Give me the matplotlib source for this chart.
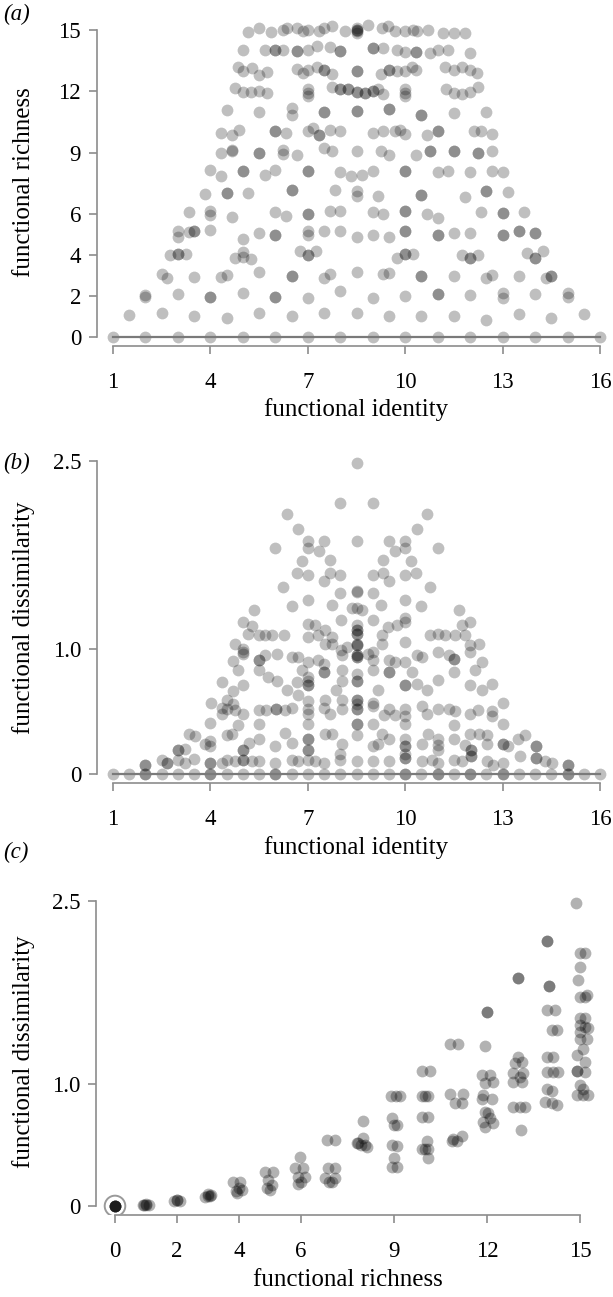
import matplotlib
matplotlib.use("Agg")
import matplotlib.pyplot as plt

plt.rcParams["font.family"] = ["Liberation Serif", "DejaVu Serif"]

W, H = 613, 1297

# ---------------- panel (a): functional identity vs functional richness
a_x = [
    # richness 0
    1, 2, 3, 4, 5, 6, 7, 8, 9, 10, 11, 12, 13, 14, 15, 16,
    # richness 1
    1.5, 2.5, 3.5, 4.5, 5.5, 6.5, 7.5, 8.5, 9.5, 10.5, 11.5, 12.5, 13.5, 14.5, 15.5,
    # richness 2
    2, 2, 3, 4, 4, 5, 6, 6, 7, 8, 9, 10, 11, 11, 12, 13, 13, 14, 15, 15,
    # richness 3
    2.5, 2.67, 3.5, 4.33, 4.5, 5.5, 6.5, 6.5, 7.5, 7.67, 8.5, 9.33, 9.5, 10.5, 10.5,
    11.5, 12.5, 12.67, 13.5, 14.33, 14.5, 14.5,
    # richness 4
    2.75, 3, 3, 3.25, 4.75, 5, 5, 5.25, 6.75, 7, 7, 7.25, 9.75, 10, 10, 10.25,
    11.75, 12, 12, 12.25, 13.75, 14, 14, 14.25,
    # richness 5
    3, 3, 3.33, 3.5, 3.5, 4, 5, 5.5, 6, 6, 7, 7, 7.5, 8, 8.5, 9, 9.5, 10, 10,
    11, 11, 11.5, 12, 13, 13, 13.5, 13.5, 14, 14,
    # richness 6
    3.33, 4, 4, 4.67, 6, 6.33, 7, 7, 7.67, 8, 9, 9.33, 10, 10, 10.67, 11, 12.33,
    13, 13, 13.67,
    # richness 7
    3.83, 4.5, 4.5, 5.17, 6.5, 6.5, 7.83, 8.5, 8.5, 9.17, 10.5, 10.5, 11.83,
    12.5, 12.5, 13.17,
    # richness 8
    4, 4.33, 5, 5, 5.67, 6, 7, 7, 8, 8.33, 8.67, 9, 10, 10, 11, 11.33, 12, 12.67, 13,
    # richness 9
    4.33, 4.67, 4.67, 5.5, 5.5, 6.25, 6.25, 6.67, 7.5, 7.75, 8.5, 9.25, 9.5, 10.33,
    10.75, 10.75, 11.5, 11.5, 12.25, 12.25, 12.67,
    # richness 10
    4.33, 4.67, 4.89, 6, 6, 6.33, 7, 7.17, 7.33, 7.33, 7.67, 8, 9, 9.33, 9.67, 9.83,
    10, 10.67, 11, 11, 12.11, 12.33, 12.67,
    # richness 11
    4.5, 5.5, 6.5, 6.5, 7.5, 7.5, 8.5, 8.5, 9.5, 9.5, 10.5, 10.5, 11.5, 12.5,
    # richness 12
    4.75, 5, 5.25, 5.5, 5.75, 7, 7, 7, 7.75, 8, 8, 8.25, 8.25, 8.5, 8.5, 8.75, 8.75,
    9, 9, 9.17, 9.33, 10, 10, 10, 11.25, 11.5, 11.75, 12, 12.25,
    # richness 13
    4.86, 5, 5.27, 5.5, 5.75, 6.67, 6.86, 7, 7.27, 7.5, 7.5, 7.75, 8.5, 8.5, 9.25,
    9.5, 9.5, 9.75, 10, 10.2, 10.33, 11.22, 11.5, 11.75, 12, 12.2,
    # richness 14
    5, 5.67, 6, 6, 6.25, 6.67, 6.67, 7, 7.27, 7.67, 8, 8, 9, 9, 9.33, 9.75, 10,
    10.33, 10.33, 10.75, 11, 11.33, 12,
    # richness 15
    5.17, 5.5, 5.86, 6.25, 6.35, 6.67, 6.86, 7, 7.33, 7.5, 7.73, 8.14, 8.5, 8.5,
    8.5, 8.5, 8.5, 8.86, 9.27, 9.48, 9.68, 10, 10.25, 10.35, 10.71, 11.17, 11.51, 11.84,
]
a_y = [
    0, 0, 0, 0, 0, 0, 0, 0, 0, 0, 0, 0, 0, 0, 0, 0,
    1.05, 1.17, 1.02, 0.93, 1.17, 1.02, 1.17, 1.19, 1.02, 1.02, 1.02, 0.85, 1.13, 0.93, 1.1,
    2.07, 1.96, 2.12, 1.96, 1.96, 2.15, 1.94, 1.94, 1.88, 2.23, 1.88, 1.99, 2.12, 2.12,
    2.04, 2.15, 1.91, 2.12, 2.15, 1.94,
    3.09, 2.88, 2.92, 2.93, 3.01, 3.16, 2.97, 2.97, 2.88, 3.09, 3.17, 3.09, 3.12, 3.0, 3.0,
    3.0, 2.88, 3.05, 3.0, 2.88, 2.97, 2.97,
    3.99, 4.07, 4.07, 4.05, 3.86, 4.15, 3.91, 3.83, 4.18, 3.99, 3.99, 4.18, 3.86, 4.05,
    4.05, 4.05, 3.99, 3.86, 3.86, 3.99, 4.1, 3.86, 3.86, 4.18,
    5.16, 4.87, 5.13, 5.2, 5.2, 5.21, 4.8, 5.08, 5.0, 5.0, 5.16, 4.97, 5.2, 5.2, 4.87,
    4.97, 4.87, 5.16, 5.16, 4.97, 4.97, 5.08, 5.08, 5.0, 5.0, 5.16, 5.16, 5.08, 5.08,
    6.11, 6.14, 5.98, 5.85, 6.11, 5.9, 6.01, 6.01, 6.17, 6.17, 6.11, 6.02, 6.14, 6.14,
    6.01, 5.82, 6.11, 6.06, 6.06, 6.11,
    6.99, 7.04, 7.04, 7.04, 7.17, 7.17, 7.2, 7.12, 6.87, 6.87, 6.92, 6.92, 6.82,
    7.12, 7.12, 7.09,
    8.18, 7.85, 8.13, 8.13, 7.93, 8.18, 8.1, 8.1, 8.06, 7.85, 7.93, 8.1, 8.13, 8.13,
    8.06, 8.1, 8.06, 8.1, 8.06,
    8.99, 9.15, 9.07, 8.99, 8.99, 9.15, 8.94, 8.91, 9.23, 9.1, 9.1, 9.1, 8.91, 8.91,
    9.07, 9.07, 9.07, 9.07, 8.99, 8.99, 9.07,
    9.97, 9.88, 10.1, 10.04, 10.04, 9.97, 10.04, 10.2, 9.88, 9.88, 10.12, 10.04, 9.97,
    10.08, 10.04, 10.12, 9.92, 9.88, 10.08, 10.08, 10.04, 10.08, 9.92,
    11.07, 10.97, 11.2, 10.86, 10.99, 10.99, 11.05, 11.05, 11.15, 11.15, 10.86, 10.86,
    10.94, 10.97,
    12.17, 11.97, 11.97, 12.03, 11.92, 12.09, 11.92, 11.76, 12.2, 12.09, 12.09, 12.09,
    12.09, 11.97, 11.97, 11.92, 11.92, 12.03, 12.03, 12.09, 11.87, 12.09, 11.92, 11.76,
    12.09, 11.92, 11.87, 11.97, 12.2,
    13.17, 12.98, 13.14, 12.82, 12.95, 13.1, 12.9, 13.06, 13.17, 13.06, 13.06, 12.85,
    12.98, 12.98, 12.85, 13.06, 13.06, 12.98, 12.98, 13.17, 13.06, 13.17, 13.06, 13.17,
    13.06, 12.9,
    14.0, 14.0, 14.0, 14.0, 14.0, 13.95, 13.95, 14.0, 14.2, 14.15, 13.95, 13.95, 14.12,
    14.12, 14.12, 14.0, 13.92, 13.92, 13.92, 13.87, 14.0, 14.04, 13.87,
    14.88, 15.09, 14.88, 15.01, 15.09, 15.09, 14.93, 15.01, 14.93, 15.09, 15.17, 14.93,
    14.93, 15.09, 14.86, 15.01, 15.0, 15.25, 15.09, 15.17, 14.93, 14.93, 14.97, 14.93,
    14.97, 14.85, 14.85, 14.85,
]

# ---------------- panel (b): functional identity vs functional dissimilarity
b_x = [
    # zero row
    1, 1.5, 2, 2, 2.5, 3, 3.5, 4, 4, 4.5, 5, 5.5, 6, 6, 6.5, 7, 7.5, 8, 8.5,
    9, 9.5, 10, 10, 10.5, 11, 11, 11.5, 12, 12, 12.5, 13, 13, 13.5, 14, 14.5,
    15, 15, 15.5, 16,
    # lower left
    2, 2, 2.5, 2.65, 2.65, 3, 3.22, 3.5, 4, 4, 4.35, 4.52, 4.76, 5, 5, 5.27, 5.5,
    6, 6.5, 6.69, 7, 7.22, 7.5, 8, 8.5,
    3, 3, 3.22, 4, 5, 5, 6, 7, 7, 8,
    3.35, 3.52, 3.83, 4, 4.5, 4.67, 5.19, 5.51, 6.3, 6.5, 7.02, 7.02, 7.53, 7.76, 8.04, 8.5,
    4, 4.86, 5.51, 7.02, 8.5,
    4.35, 4.5, 4.76, 5.01, 5.51, 5.7, 6.01, 6.01, 6.3, 6.5, 7.02, 7.02, 7.51, 7.68,
    8.04, 8.5, 8.5, 4.35,
    4.01, 4.52, 4.69, 7.02, 7.53, 8.04, 8.5,
    4.35, 4.69, 5.01, 6.35, 6.66, 6.69, 7.02, 7.02, 7.02, 7.86, 8.04, 8.5, 8.5,
    4.86, 5.51, 5.78, 6.04, 6.81, 7.02, 7.51, 7.51, 8.04,
    4.69, 5.01, 5.51, 5.51, 5.68, 6.04, 6.5, 6.69, 7.02, 7.32, 7.51, 8.04, 8.5, 8.5,
    4.76, 5.01, 5.01, 7.53, 7.76, 8.01, 8.2, 8.5, 8.5,
    5.01, 5.27, 5.17, 5.51, 5.68, 5.89, 6.28, 7.02, 7.22, 7.02, 7.3, 7.53, 7.73, 8.02,
    8.5, 8.5, 8.5,
    # lower right
    9.02, 9.51, 10, 10, 10.51, 10.82, 11.02, 11.51, 11.74, 12.02, 12.02, 12.53, 12.69,
    13.02, 13.52, 14.02, 14.02, 14.31, 14.51, 15.02, 15.02,
    9.02, 9.17, 10, 10, 10, 10.51, 11.02, 11.02, 11.84, 12.02, 12.02, 12.53, 13.02,
    13.02, 13.17, 14.02, 14.02,
    9.27, 9.51, 10, 10.71, 11.02, 11.51, 12, 12.27, 12.53, 13.48, 13.69,
    8.53, 9.02, 10, 11.51, 13.02,
    8.53, 9.02, 9.35, 9.51, 9.69, 10, 10, 10.51, 10.66, 11.02, 11.36, 11.53, 11.99,
    12.25, 12.66, 12.66,
    8.53, 9.02, 13.02,
    9.17, 10, 10, 10.35, 10.68, 11.02, 12, 12.35, 12.66,
    8.53, 9.02, 9.51, 9.51, 10, 10.2, 11.51, 12.15,
    8.53, 8.53, 8.86, 9.02, 9.51, 9.69, 10.35, 10.51, 11.02, 11.36, 11.51, 11.51, 12,
    12.35,
    8.53, 9.02, 9.27, 12, 12.27,
    8.53, 8.53, 9.27, 9.48, 9.74, 9.99, 9.99, 10.76, 11.02, 11.22, 11.53, 11.74, 11.84,
    11.99,
    9.02, 10,
    # upper part
    8.5, 8, 9, 6.35, 10.68, 6.69, 10.35,
    7, 7, 7.5, 7.35, 6, 8.5, 9.5, 10, 10, 9.67, 11,
    6.83, 7.67, 9.33, 10.17,
    6.67, 7, 7.5, 7.67, 8, 9, 9.33, 9.5, 10, 10.33,
    6.25, 10.75, 8, 9, 8.5, 8.5,
    6.5, 7, 7.75, 10, 9.25, 10.5,
    5.35, 11.67, 8.35, 8.5, 8.67,
]
b_y = [
    0, 0, 0, 0, 0, 0, 0, 0, 0, 0, 0, 0, 0, 0, 0, 0, 0, 0, 0,
    0, 0, 0, 0, 0, 0, 0, 0, 0, 0, 0, 0, 0, 0, 0, 0,
    0, 0, 0, 0,
    0.07, 0.07, 0.11, 0.09, 0.09, 0.11, 0.085, 0.12, 0.085, 0.085, 0.09, 0.11, 0.105,
    0.11, 0.11, 0.1, 0.105, 0.085, 0.11, 0.1, 0.11, 0.1, 0.085, 0.11, 0.1,
    0.19, 0.19, 0.2, 0.22, 0.19, 0.19, 0.22, 0.19, 0.19, 0.16,
    0.32, 0.3, 0.24, 0.26, 0.31, 0.32, 0.25, 0.28, 0.33, 0.25, 0.28, 0.28, 0.32, 0.32,
    0.24, 0.31,
    0.41, 0.39, 0.4, 0.4, 0.4,
    0.48, 0.52, 0.51, 0.48, 0.51, 0.51, 0.52, 0.52, 0.51, 0.53, 0.52, 0.48, 0.53, 0.48,
    0.52, 0.52, 0.52, 0.53,
    0.57, 0.59, 0.56, 0.58, 0.59, 0.59, 0.59,
    0.73, 0.66, 0.71, 0.67, 0.73, 0.63, 0.71, 0.71, 0.74, 0.67, 0.74, 0.74, 0.74,
    0.83, 0.83, 0.77, 0.74, 0.83, 0.77, 0.81, 0.81, 0.83,
    0.9, 0.96, 0.91, 0.91, 0.95, 0.96, 0.93, 0.93, 0.89, 0.91, 0.88, 0.95, 0.93, 0.93,
    1.04, 1.0, 0.97, 1.04, 1.04, 0.99, 1.01, 1.03, 1.03,
    1.21, 1.18, 1.12, 1.11, 1.11, 1.11, 1.11, 1.2, 1.19, 1.09, 1.11, 1.15, 1.09, 1.23,
    1.12, 1.12, 1.19,
    0.1, 0.1, 0.13, 0.13, 0.1, 0.11, 0.085, 0.11, 0.1, 0.14, 0.14, 0.1, 0.07,
    0.085, 0.14, 0.13, 0.13, 0.1, 0.085, 0.07, 0.07,
    0.22, 0.24, 0.22, 0.22, 0.16, 0.24, 0.23, 0.19, 0.23, 0.19, 0.19, 0.24, 0.24,
    0.24, 0.22, 0.22, 0.22,
    0.32, 0.28, 0.28, 0.32, 0.28, 0.28, 0.32, 0.32, 0.31, 0.28, 0.31,
    0.4, 0.4, 0.4, 0.39, 0.4,
    0.56, 0.54, 0.47, 0.52, 0.47, 0.52, 0.46, 0.54, 0.48, 0.52, 0.52, 0.5, 0.48,
    0.51, 0.5, 0.46,
    0.59, 0.57, 0.57,
    0.67, 0.71, 0.71, 0.72, 0.67, 0.75, 0.71, 0.67, 0.72,
    0.8, 0.83, 0.81, 0.81, 0.89, 0.81, 0.81, 0.83,
    0.95, 0.95, 0.96, 0.91, 0.91, 0.89, 0.95, 0.93, 0.97, 0.95, 0.92, 0.92, 0.97,
    0.89,
    1.04, 0.97, 1.04, 1.03, 1.04,
    1.15, 1.15, 1.11, 1.17, 1.19, 1.21, 1.05, 1.11, 1.12, 1.11, 1.11, 1.19, 1.11,
    1.21,
    1.23, 1.24,
    2.48, 2.16, 2.16, 2.07, 2.07, 1.95, 1.95,
    1.86, 1.8, 1.86, 1.78, 1.8, 1.86, 1.86, 1.86, 1.8, 1.78, 1.8,
    1.7, 1.71, 1.71, 1.7,
    1.6, 1.59, 1.54, 1.6, 1.59, 1.59, 1.6, 1.54, 1.59, 1.6,
    1.49, 1.49, 1.44, 1.44, 1.46, 1.45,
    1.34, 1.39, 1.35, 1.39, 1.35, 1.34,
    1.31, 1.31, 1.32, 1.32, 1.31,
]

# ---------------- panel (c): functional richness vs functional dissimilarity
c_x = [
    0, 0, 0, 0, 0, 0,
    0.9, 1.0, 1.1, 1.0, 0.95,
    1.9, 2.0, 2.1, 2.0,
    2.9, 3.0, 3.1, 3.0, 3.05,
    3.82, 4.03, 3.9, 4.1, 4.0, 3.95,
    4.84, 5.11, 4.95, 4.9, 5.05, 5.0,
    5.97, 5.81, 6.08, 5.91, 6.13, 6.0, 5.9,
    6.83, 7.1, 6.88, 7.1, 6.77, 7.1, 6.9, 7.0,
    7.8, 8.01, 8.01, 7.85, 8.12, 8.05, 7.95,
    8.92, 9.08, 9.19, 8.95, 9.0, 9.1, 8.95, 9.1, 9.0, 8.95, 9.1,
    9.89, 10.16, 9.89, 10.11, 10.0, 9.89, 10.11, 10.05, 9.89, 10.11, 10.0, 10.11,
    10.81, 11.07, 10.81, 11.24, 10.97, 11.18, 10.91, 11.18, 10.86, 11.02,
    11.99, 11.99, 11.94, 11.83, 12.1, 11.94, 12.2, 11.88, 12.15, 11.83, 11.94,
    12.04, 12.1, 11.88, 12.2, 11.94,
    13.01, 13.01, 13.01, 13.12, 12.9, 12.85, 13.17, 13.06, 12.85, 13.12, 12.85,
    13.06, 13.23, 13.09,
    13.93, 13.93, 14.0, 14.0, 13.93, 14.19, 14.09, 14.25, 13.93, 14.14, 13.93, 14.14,
    14.3, 13.93, 14.09, 13.87, 14.09, 14.25,
    14.87, 15.0, 15.16, 15.0, 14.95, 15.22, 15.0, 15.16, 15.0, 15.16, 15.0, 15.16,
    15.0, 15.27, 15.0, 15.22, 15.1, 14.89, 15.16, 14.89, 14.89, 15.16, 15.0, 15.1,
    14.89, 15.1, 15.27,
]
c_y = [
    0, 0, 0, 0, 0, 0,
    0.01, 0.01, 0.01, 0.015, 0.01,
    0.04, 0.045, 0.04, 0.05,
    0.07, 0.08, 0.09, 0.1, 0.08,
    0.2, 0.2, 0.12, 0.13, 0.15, 0.11,
    0.28, 0.28, 0.21, 0.15, 0.17, 0.13,
    0.4, 0.31, 0.31, 0.24, 0.24, 0.2, 0.18,
    0.54, 0.54, 0.31, 0.31, 0.23, 0.23, 0.2, 0.2,
    0.52, 0.7, 0.56, 0.52, 0.48, 0.5, 0.5,
    0.9, 0.9, 0.9, 0.72, 0.66, 0.66, 0.5, 0.49, 0.39, 0.32, 0.32,
    1.11, 1.11, 0.9, 0.9, 0.9, 0.73, 0.73, 0.53, 0.47, 0.47, 0.47, 0.39,
    1.33, 1.33, 0.92, 0.92, 0.84, 0.84, 0.55, 0.57, 0.53, 0.53,
    1.59, 1.59, 1.31, 1.07, 1.07, 1.01, 1.02, 0.91, 0.88, 0.88, 0.77,
    0.76, 0.72, 0.69, 0.68, 0.65,
    1.87, 1.87, 1.22, 1.18, 1.17, 1.09, 1.09, 1.06, 1.02, 1.02, 0.81,
    0.81, 0.81, 0.62,
    2.17, 2.17, 1.8, 1.8, 1.61, 1.61, 1.44, 1.44, 1.22, 1.22, 1.1, 1.1,
    1.1, 0.96, 0.94, 0.85, 0.84, 0.83,
    2.48, 2.07, 2.07, 1.96, 1.85, 1.73, 1.71, 1.71, 1.54, 1.54, 1.48, 1.47,
    1.43, 1.46, 1.37, 1.37, 1.29, 1.24, 1.18, 1.11, 1.11, 1.1, 0.99, 0.96,
    0.91, 0.91, 0.91,
]

SPINE = "#8c8c8c"
DOT = "black"


def px_axes(fig, left, top, right, bottom):
    return fig.add_axes([left / W, 1 - bottom / H, (right - left) / W, (bottom - top) / H])


def style(ax, xb, yb, xticks, yticks, xlabels, ylabels):
    for s in ("top", "right"):
        ax.spines[s].set_visible(False)
    for s in ("left", "bottom"):
        ax.spines[s].set_color(SPINE)
        ax.spines[s].set_linewidth(1.2)
    ax.spines["bottom"].set_bounds(*xb)
    ax.spines["left"].set_bounds(*yb)
    ax.set_xticks(xticks)
    ax.set_xticklabels(xlabels)
    ax.set_yticks(yticks)
    ax.set_yticklabels(ylabels)
    ax.tick_params(direction="out", length=5.5, width=1.2, color=SPINE,
                   labelsize=16.5)
    ax.tick_params(axis="x", pad=13)
    ax.tick_params(axis="y", pad=6)


fig = plt.figure(figsize=(W / 100, H / 100), dpi=100)

# (a)
ax = px_axes(fig, 97, 18, 610, 346)
ax.scatter(a_x, a_y, s=72, color=DOT, alpha=0.25, linewidths=0, zorder=2)
ax.plot([1, 16], [0, 0], color="#7a7a7a", lw=1.6, zorder=3)
ax.set_xlim(0.507, 16.307)
ax.set_ylim(-0.44, 15.58)
style(ax, (1, 16), (0, 15), [1, 4, 7, 10, 13, 16], [0, 2, 4, 6, 9, 12, 15],
      ["1", "4", "7", "10", "13", "16"], ["0", "2", "4", "6", "9", "12", "15"])

# (b)
ax = px_axes(fig, 97, 455, 610, 783)
ax.scatter(b_x, b_y, s=72, color=DOT, alpha=0.25, linewidths=0, zorder=2)
ax.plot([1, 16], [0, 0], color="#7a7a7a", lw=1.6, zorder=3)
ax.set_xlim(0.507, 16.307)
ax.set_ylim(-0.072, 2.544)
style(ax, (1, 16), (0, 2.5), [1, 4, 7, 10, 13, 16], [0, 1.0, 2.5],
      ["1", "4", "7", "10", "13", "16"], ["0", "1.0", "2.5"])

# (c)
ax = px_axes(fig, 96, 895, 610, 1215)
ax.scatter(c_x, c_y, s=72, color=DOT, alpha=0.3, linewidths=0, zorder=2)
ax.scatter([0], [0], s=220, facecolors="none", edgecolors="#9a9a9a",
           linewidths=1.4, zorder=3)
ax.set_xlim(-0.613, 15.97)
ax.set_ylim(-0.074, 2.549)
style(ax, (0, 15), (0, 2.5), [0, 2, 4, 6, 9, 12, 15], [0, 1.0, 2.5],
      ["0", "2", "4", "6", "9", "12", "15"], ["0", "1.0", "2.5"])


def ftext(x, y, s, **kw):
    fig.text(x / W, 1 - y / H, s, **kw)


LBL = dict(fontsize=18, ha="center", va="center")
ftext(356, 410, "functional identity", **LBL)
ftext(356, 848, "functional identity", **LBL)
ftext(348, 1280, "functional richness", **LBL)
ftext(24, 182, "functional richness", rotation=90, **LBL)
ftext(24, 618, "functional dissimilarity", rotation=90, **LBL)
ftext(24, 1052, "functional dissimilarity", rotation=90, **LBL)

PAN = dict(fontsize=16.5, style="italic", ha="left", va="center")
ftext(3, 14, "(a)", **PAN)
ftext(3, 463, "(b)", **PAN)
ftext(3, 852, "(c)", **PAN)

fig.savefig("out.png", dpi=100)
